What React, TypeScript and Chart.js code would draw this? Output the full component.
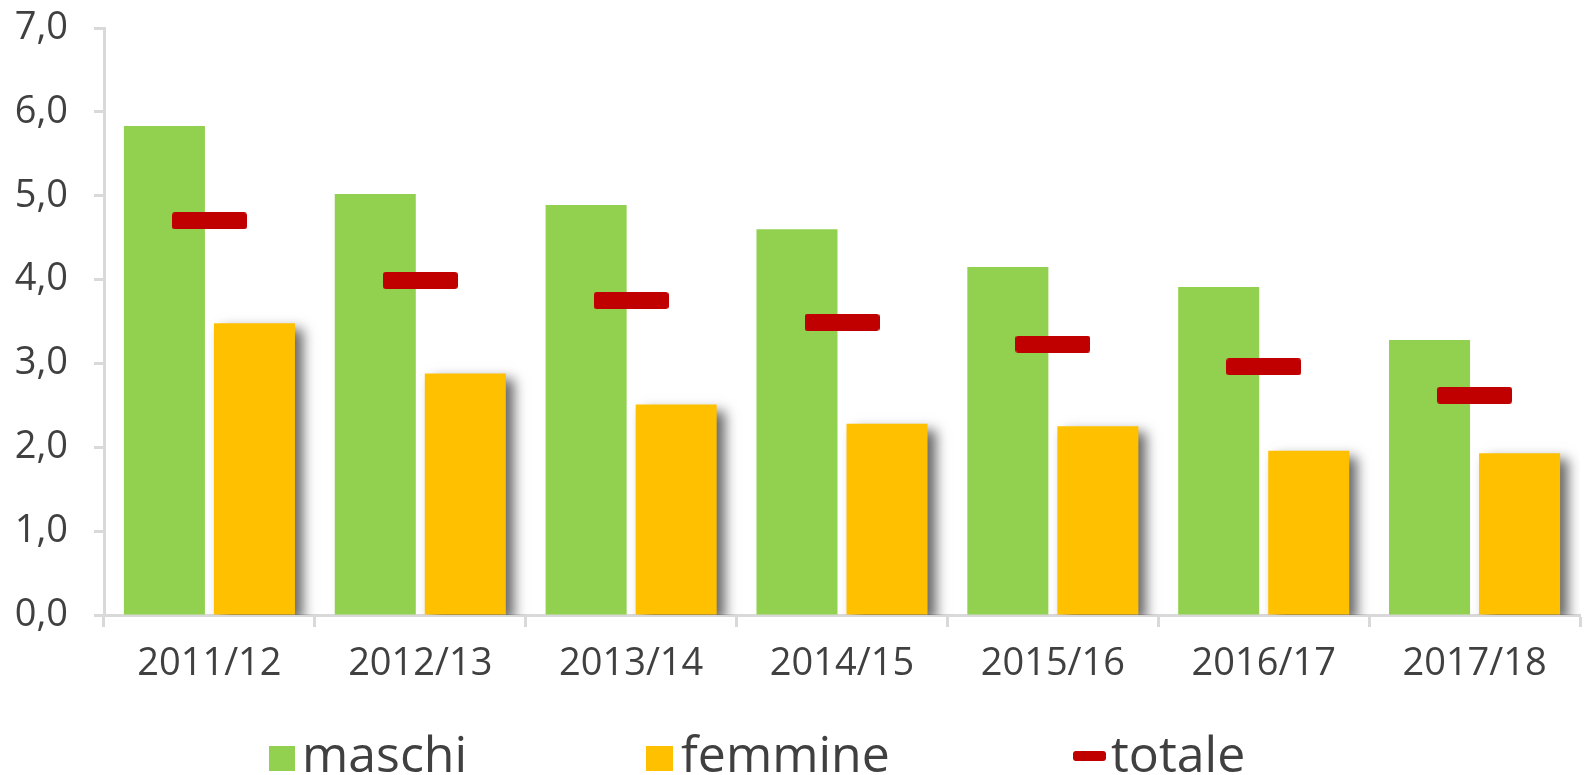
import React, { useEffect, useRef } from "react";
import { Chart, registerables } from "chart.js";

Chart.register(...registerables);

const categories = ["2011/12", "2012/13", "2013/14", "2014/15", "2015/16", "2016/17", "2017/18"];
const maschi = [5.83, 5.02, 4.89, 4.6, 4.15, 3.91, 3.28];
const femmine = [3.48, 2.88, 2.51, 2.28, 2.25, 1.96, 1.93];
const totale = [4.7, 3.99, 3.75, 3.49, 3.23, 2.96, 2.62];

const GREEN = "#92d050";
const YELLOW = "#ffc000";
const RED = "#c00000";
const AXIS = "#d9d9d9";
const TEXT = "#404040";
const FONT = "'Open Sans', 'Noto Sans', sans-serif";

function makeMarker(w: number, h: number, r: number, color: string) {
  const c = document.createElement("canvas");
  c.width = w;
  c.height = h;
  const ctx = c.getContext("2d")!;
  ctx.fillStyle = color;
  ctx.beginPath();
  ctx.moveTo(r, 0);
  ctx.lineTo(w - r, 0);
  ctx.quadraticCurveTo(w, 0, w, r);
  ctx.lineTo(w, h - r);
  ctx.quadraticCurveTo(w, h, w - r, h);
  ctx.lineTo(r, h);
  ctx.quadraticCurveTo(0, h, 0, h - r);
  ctx.lineTo(0, r);
  ctx.quadraticCurveTo(0, 0, r, 0);
  ctx.closePath();
  ctx.fill();
  return c;
}

const shadowPlugin = {
  id: "barShadow",
  beforeDatasetDraw(chart: any, args: any) {
    if (args.index === 1) {
      const ctx = chart.ctx;
      ctx.save();
      ctx.shadowColor = "rgba(0,0,0,0.6)";
      ctx.shadowBlur = 12;
      ctx.shadowOffsetX = 8;
      ctx.shadowOffsetY = 6;
    }
  },
  afterDatasetDraw(chart: any, args: any) {
    if (args.index === 1) {
      chart.ctx.restore();
    }
  },
};

export default function App() {
  const ref = useRef<HTMLCanvasElement | null>(null);

  useEffect(() => {
    document.body.style.margin = "0";
    const marker = makeMarker(75, 17, 3, RED);
    const chart = new Chart(ref.current!, {
      type: "bar",
      data: {
        labels: categories,
        datasets: [
          {
            label: "maschi",
            data: maschi,
            backgroundColor: GREEN,
            order: 2,
            categoryPercentage: 0.854,
            barPercentage: 0.9,
          } as any,
          {
            label: "femmine",
            data: femmine,
            backgroundColor: YELLOW,
            order: 2,
            categoryPercentage: 0.854,
            barPercentage: 0.9,
          } as any,
          {
            type: "line",
            label: "totale",
            data: totale,
            showLine: false,
            pointStyle: marker,
            pointRadius: 10,
            pointHoverRadius: 10,
            borderColor: RED,
            backgroundColor: RED,
            order: 0,
          } as any,
        ],
      },
      options: {
        animation: false,
        responsive: false,
        maintainAspectRatio: false,
        layout: { padding: { top: 28, right: 4, bottom: 88, left: 0 } },
        plugins: {
          legend: { display: false },
          tooltip: { enabled: false },
        },
        scales: {
          x: {
            offset: true,
            grid: {
              offset: true,
              drawOnChartArea: false,
              drawTicks: true,
              tickLength: 12,
              tickWidth: 3,
              tickColor: AXIS,
            },
            border: { display: true, color: AXIS, width: 3 },
            ticks: {
              padding: 14,
              color: TEXT,
              font: { family: FONT, size: 38 },
              maxRotation: 0,
            },
            afterFit: (s: any) => {
              s.height = 72;
              s.paddingLeft = 0;
              s.paddingRight = 0;
            },
          },
          y: {
            min: 0,
            max: 7,
            grid: {
              drawOnChartArea: false,
              drawTicks: true,
              tickLength: 10,
              tickWidth: 3,
              tickColor: AXIS,
            },
            border: { display: true, color: AXIS, width: 3 },
            ticks: {
              stepSize: 1,
              padding: 26,
              color: TEXT,
              font: { family: FONT, size: 38 },
              callback: (v: any) => Number(v).toFixed(1).replace(".", ","),
            },
            afterFit: (s: any) => {
              s.width = 104;
              s.paddingTop = 0;
              s.paddingBottom = 0;
            },
          },
        },
      },
      plugins: [shadowPlugin],
    });
    return () => chart.destroy();
  }, []);

  const textStyle: React.CSSProperties = {
    position: "absolute",
    fontFamily: FONT,
    fontSize: 50,
    lineHeight: "50px",
    color: TEXT,
    whiteSpace: "nowrap",
  };

  return (
    <div style={{ position: "relative", width: 1591, height: 775, overflow: "hidden" }}>
      <canvas ref={ref} width={1591} height={775} style={{ display: "block" }} />
      <div style={{ position: "absolute", left: 269, top: 746, width: 26, height: 25, background: GREEN }} />
      <span style={{ ...textStyle, left: 302, top: 728 }}>maschi</span>
      <div style={{ position: "absolute", left: 646, top: 746, width: 27, height: 25, background: YELLOW }} />
      <span style={{ ...textStyle, left: 681, top: 728 }}>femmine</span>
      <div style={{ position: "absolute", left: 1073, top: 751, width: 33, height: 10, borderRadius: 3, background: RED }} />
      <span style={{ ...textStyle, left: 1111, top: 728 }}>totale</span>
    </div>
  );
}
